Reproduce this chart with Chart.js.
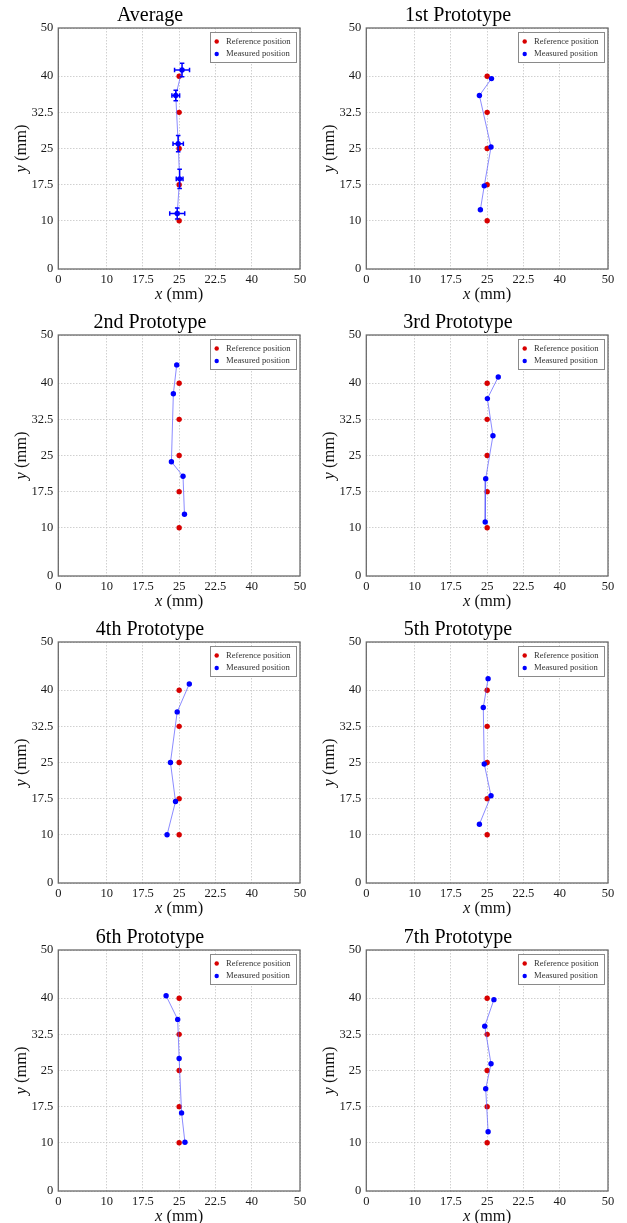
<!DOCTYPE html>
<html><head><meta charset="utf-8">
<script src="https://cdn.jsdelivr.net/npm/chart.js@4.4.1/dist/chart.umd.min.js"></script>
<style>
html,body{margin:0;padding:0;background:#fff;width:627px;height:1223px;overflow:hidden;position:relative}
canvas{position:absolute}
</style></head><body>
<script>
// ---- data ----
const panelTitles = ['Average','1st Prototype','2nd Prototype','3rd Prototype','4th Prototype','5th Prototype','6th Prototype','7th Prototype'];
const seriesLabels = ['Reference position','Measured position'];
const tickValues = [0, 10, 17.5, 25, 32.5, 40, 50];
const xTickLabels = ['0','10','17.5','25','22.5','40','50'];
const yTickLabels = ['0','10','17.5','25','32.5','40','50'];
const xAxisTitle = ['x', ' (mm)'];
const yAxisTitle = ['y', ' (mm)'];

const refX = [25, 25, 25, 25, 25];
const refY = [40, 32.5, 25, 17.5, 10];

const avgX = [25.6, 24.3, 24.8, 25.1, 24.6];
const avgY = [41.3, 36.0, 26.0, 18.7, 11.5];
const avgXErr = [1.55, 0.8, 1.07, 0.7, 1.55];
const avgYErr = [1.4, 1.07, 1.7, 2.0, 1.14];

const p1X = [25.9, 23.4, 25.8, 24.4, 23.6];
const p1Y = [39.5, 36.0, 25.3, 17.25, 12.3];
const p2X = [24.5, 23.8, 23.4, 25.8, 26.1];
const p2Y = [43.8, 37.8, 23.7, 20.7, 12.8];
const p3X = [27.3, 25.05, 26.2, 24.7, 24.6];
const p3Y = [41.3, 36.8, 29.1, 20.2, 11.2];
const p4X = [27.1, 24.6, 23.2, 24.25, 22.5];
const p4Y = [41.3, 35.5, 25.0, 16.9, 10.0];
const p5X = [25.2, 24.2, 24.4, 25.8, 23.4];
const p5Y = [42.4, 36.4, 24.7, 18.1, 12.2];
const p6X = [22.3, 24.7, 25.0, 25.5, 26.2];
const p6Y = [40.5, 35.6, 27.5, 16.2, 10.1];
const p7X = [26.4, 24.5, 25.8, 24.7, 25.2];
const p7Y = [39.7, 34.2, 26.4, 21.2, 12.3];

const measuredX = [avgX, p1X, p2X, p3X, p4X, p5X, p6X, p7X];
const measuredY = [avgY, p1Y, p2Y, p3Y, p4Y, p5Y, p6Y, p7Y];

// ---- layout ----
const colLeft = [0, 308];
const rowTop = [0, 307, 614, 922];
const CW = 313, CH = 307;
const SERIF = '"Liberation Serif", "DejaVu Serif", serif';
const RED = '#d80000', BLUE = '#0000ff', LINE = 'rgba(90,90,255,0.7)';

const toPts = (xs, ys) => xs.map((x, i) => ({x: x, y: ys[i]}));

const framePlugin = {
  id: 'frame',
  beforeDatasetsDraw(chart) {
    const {ctx, chartArea: a} = chart;
    ctx.save();
    ctx.strokeStyle = '#6a6a6a';
    ctx.lineWidth = 1.3;
    ctx.strokeRect(a.left, a.top, a.right - a.left, a.bottom - a.top);
    ctx.restore();
  }
};

const errorBarPlugin = {
  id: 'errbars',
  afterDatasetsDraw(chart, args, opts) {
    if (!opts || !opts.xerr) return;
    const {ctx, scales: {x, y}} = chart;
    const ds = chart.data.datasets[opts.datasetIndex];
    ctx.save();
    ctx.strokeStyle = BLUE;
    ctx.lineWidth = 1.5;
    const cap = 2.3;
    ds.data.forEach((p, i) => {
      const px = x.getPixelForValue(p.x), py = y.getPixelForValue(p.y);
      const x0 = x.getPixelForValue(p.x - opts.xerr[i]), x1 = x.getPixelForValue(p.x + opts.xerr[i]);
      const y0 = y.getPixelForValue(p.y - opts.yerr[i]), y1 = y.getPixelForValue(p.y + opts.yerr[i]);
      ctx.beginPath();
      ctx.moveTo(x0, py); ctx.lineTo(x1, py);
      ctx.moveTo(x0, py - cap); ctx.lineTo(x0, py + cap);
      ctx.moveTo(x1, py - cap); ctx.lineTo(x1, py + cap);
      ctx.moveTo(px, y0); ctx.lineTo(px, y1);
      ctx.moveTo(px - cap, y0); ctx.lineTo(px + cap, y0);
      ctx.moveTo(px - cap, y1); ctx.lineTo(px + cap, y1);
      ctx.stroke();
    });
    ctx.restore();
  }
};

const legendPlugin = {
  id: 'innerLegend',
  afterDraw(chart) {
    const {ctx, chartArea: a} = chart;
    const bx = a.right - 90, by = a.top + 4, bw = 87, bh = 31;
    ctx.save();
    ctx.fillStyle = '#fff';
    ctx.fillRect(bx, by, bw, bh);
    ctx.strokeStyle = '#8a8a8a';
    ctx.lineWidth = 1;
    ctx.strokeRect(bx + 0.5, by + 0.5, bw - 1, bh - 1);
    ctx.font = '8.6px ' + SERIF;
    ctx.textBaseline = 'middle';
    ctx.textAlign = 'left';
    chart.data.datasets.forEach((ds, i) => {
      const cy = by + 9.5 + i * 12.5;
      ctx.fillStyle = ds.pointBackgroundColor;
      ctx.beginPath();
      ctx.arc(bx + 6.7, cy, 2.2, 0, Math.PI * 2);
      ctx.fill();
      ctx.fillStyle = '#333';
      ctx.fillText(ds.label, bx + 16, cy);
    });
    ctx.restore();
  }
};

const axisTitlePlugin = {
  id: 'axisTitles',
  afterDraw(chart) {
    const {ctx, chartArea: a} = chart;
    const drawMixed = (cx, cy, parts) => {
      ctx.font = 'italic 16.5px ' + SERIF;
      const w1 = ctx.measureText(parts[0]).width;
      ctx.font = '16.5px ' + SERIF;
      const w2 = ctx.measureText(parts[1]).width;
      const sx = cx - (w1 + w2) / 2;
      ctx.font = 'italic 16.5px ' + SERIF;
      ctx.fillText(parts[0], sx, cy);
      ctx.font = '16.5px ' + SERIF;
      ctx.fillText(parts[1], sx + w1, cy);
    };
    ctx.save();
    ctx.fillStyle = '#111';
    ctx.textBaseline = 'middle';
    ctx.textAlign = 'left';
    drawMixed((a.left + a.right) / 2, a.bottom + 26, xAxisTitle);
    ctx.translate(a.left - 37, (a.top + a.bottom) / 2);
    ctx.rotate(-Math.PI / 2);
    drawMixed(0, 0, yAxisTitle);
    ctx.restore();
  }
};

function axisOpts(labels, isX) {
  return {
    type: 'linear',
    min: 0, max: 50,
    afterBuildTicks: (axis) => { axis.ticks = tickValues.map(v => ({value: v})); },
    afterFit: (scale) => { if (isX) scale.height = 38; else scale.width = 58.3; },
    grid: { color: '#c4c4c4', lineWidth: 0.8, drawTicks: false },
    border: { display: false, dash: [1.5, 1.5] },
    ticks: {
      color: '#1a1a1a',
      font: { family: SERIF, size: 12.5 },
      padding: isX ? 3 : 5,
      autoSkip: false,
      maxRotation: 0,
      callback: (value, index) => labels[index]
    }
  };
}

panelTitles.forEach((title, k) => {
  const cv = document.createElement('canvas');
  cv.width = CW; cv.height = CH;
  cv.style.left = colLeft[k % 2] + 'px';
  cv.style.top = rowTop[Math.floor(k / 2)] + 'px';
  cv.style.width = CW + 'px'; cv.style.height = CH + 'px';
  document.body.appendChild(cv);
  const measured = {
    label: seriesLabels[1],
    data: toPts(measuredX[k], measuredY[k]),
    showLine: true,
    borderColor: LINE,
    borderWidth: 1,
    pointBackgroundColor: BLUE,
    pointBorderColor: BLUE,
    pointRadius: 2.7,
    pointBorderWidth: 0,
    order: 0
  };
  const reference = {
    label: seriesLabels[0],
    data: toPts(refX, refY),
    showLine: false,
    backgroundColor: RED,
    pointBackgroundColor: RED,
    pointBorderColor: RED,
    pointRadius: 2.7,
    pointBorderWidth: 0,
    order: 1
  };
  new Chart(cv, {
    type: 'scatter',
    data: { datasets: [reference, measured] },
    options: {
      responsive: false,
      animation: false,
      devicePixelRatio: 1,
      layout: { padding: { left: 0, right: 13, top: 0, bottom: 0 } },
      plugins: {
        legend: { display: false },
        tooltip: { enabled: false },
        title: {
          display: true, text: title, color: '#000',
          font: { family: SERIF, size: 20, weight: 'normal', lineHeight: 1 },
          padding: { top: 6, bottom: 2 }
        },
        errbars: k === 0 ? { xerr: avgXErr, yerr: avgYErr, datasetIndex: 1 } : {}
      },
      scales: { x: axisOpts(xTickLabels, true), y: axisOpts(yTickLabels, false) }
    },
    plugins: [framePlugin, errorBarPlugin, legendPlugin, axisTitlePlugin]
  });
});
</script>
</body></html>
